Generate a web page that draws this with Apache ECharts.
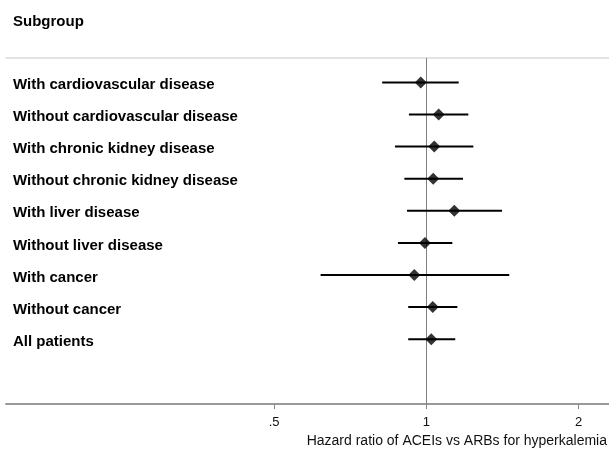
<!DOCTYPE html>
<html>
<head>
<meta charset="utf-8">
<script src="https://cdn.jsdelivr.net/npm/echarts@6/dist/echarts.min.js"></script>
<style>
  html, body { margin: 0; padding: 0; background: #fff; }
  #chart { width: 609px; height: 451px; }
</style>
</head>
<body>
<div id="chart"></div>
<script>
// 亚组名称
const subgroups = [
  'With cardiovascular disease',
  'Without cardiovascular disease',
  'With chronic kidney disease',
  'Without chronic kidney disease',
  'With liver disease',
  'Without liver disease',
  'With cancer',
  'Without cancer',
  'All patients'
]
// 风险比及置信区间
const hazardRatio = [0.975, 1.058, 1.037, 1.032, 1.136, 0.994, 0.947, 1.030, 1.023]
const ciLower = [0.818, 0.924, 0.867, 0.905, 0.916, 0.879, 0.618, 0.921, 0.921]
const ciUpper = [1.159, 1.211, 1.239, 1.182, 1.412, 1.126, 1.459, 1.152, 1.141]
// x 轴刻度
const xTicks = [0.5, 1, 2]
const xTickLabels = ['.5', '1', '2']

const FONT = "'Liberation Sans', Arial, sans-serif"
const rowPos = subgroups.map((_, i) => i + 1)

const chart = echarts.init(document.getElementById('chart'))

const option = {
  animation: false,
  title: [
    {
      text: 'Subgroup',
      left: 13,
      top: 14,
      padding: 0,
      textStyle: { fontFamily: FONT, fontSize: 15, fontWeight: 'bold', color: '#000' }
    },
    {
      text: 'Hazard ratio of ACEIs vs ARBs for hyperkalemia',
      right: 2,
      top: 434,
      padding: 0,
      textStyle: { fontFamily: FONT, fontSize: 14, fontWeight: 'normal', color: '#111' }
    }
  ],
  grid: { left: 6, right: 0, top: 58, bottom: 47, containLabel: false },
  xAxis: [
    {
      type: 'log',
      logBase: 2,
      min: 0.1475,
      max: 2.298,
      position: 'bottom',
      axisLine: { lineStyle: { color: '#999', width: 2 } },
      axisTick: { customValues: xTicks, length: 5, lineStyle: { color: '#888', width: 1 } },
      axisLabel: {
        customValues: xTicks,
        formatter: v => xTickLabels[xTicks.indexOf(v)] ?? '',
        margin: 12,
        fontFamily: FONT,
        fontSize: 13,
        color: '#111'
      },
      splitLine: { show: false },
      minorTick: { show: false }
    },
    {
      type: 'log',
      logBase: 2,
      min: 0.1475,
      max: 2.298,
      position: 'top',
      axisLine: { lineStyle: { color: '#e3e3e3', width: 2 } },
      axisTick: { show: false },
      axisLabel: { show: false },
      splitLine: { show: false }
    }
  ],
  yAxis: {
    type: 'value',
    inverse: true,
    min: 0.24,
    max: 11.02,
    axisLine: { show: false },
    axisTick: { show: false },
    splitLine: { show: false },
    axisLabel: {
      customValues: rowPos,
      inside: true,
      margin: 7,
      formatter: v => '{n|' + (subgroups[v - 1] ?? '') + '}',
      rich: {
        n: {
          fontFamily: FONT,
          fontSize: 15,
          fontWeight: 'bold',
          color: '#000',
          padding: [5, 0, 0, 0]
        }
      }
    }
  },
  series: [
    {
      type: 'custom',
      name: 'CI',
      data: subgroups.map((_, i) => [ciLower[i], ciUpper[i], rowPos[i]]),
      encode: { x: [0, 1], y: 2 },
      renderItem: (params, api) => {
        const y = api.value(2)
        const p1 = api.coord([api.value(0), y])
        const p2 = api.coord([api.value(1), y])
        return {
          type: 'line',
          shape: { x1: p1[0], y1: p1[1], x2: p2[0], y2: p2[1] },
          style: { stroke: '#000', lineWidth: 2 }
        }
      },
      z: 2
    },
    {
      type: 'scatter',
      name: 'HR',
      data: subgroups.map((_, i) => [hazardRatio[i], rowPos[i]]),
      symbol: 'diamond',
      symbolSize: 12,
      itemStyle: { color: '#000' },
      z: 3,
      markLine: {
        silent: true,
        symbol: 'none',
        label: { show: false },
        lineStyle: { color: '#808080', width: 1, type: 'solid' },
        data: [{ xAxis: 1 }],
        z: 1
      }
    }
  ]
}

chart.setOption(option)
</script>
</body>
</html>
